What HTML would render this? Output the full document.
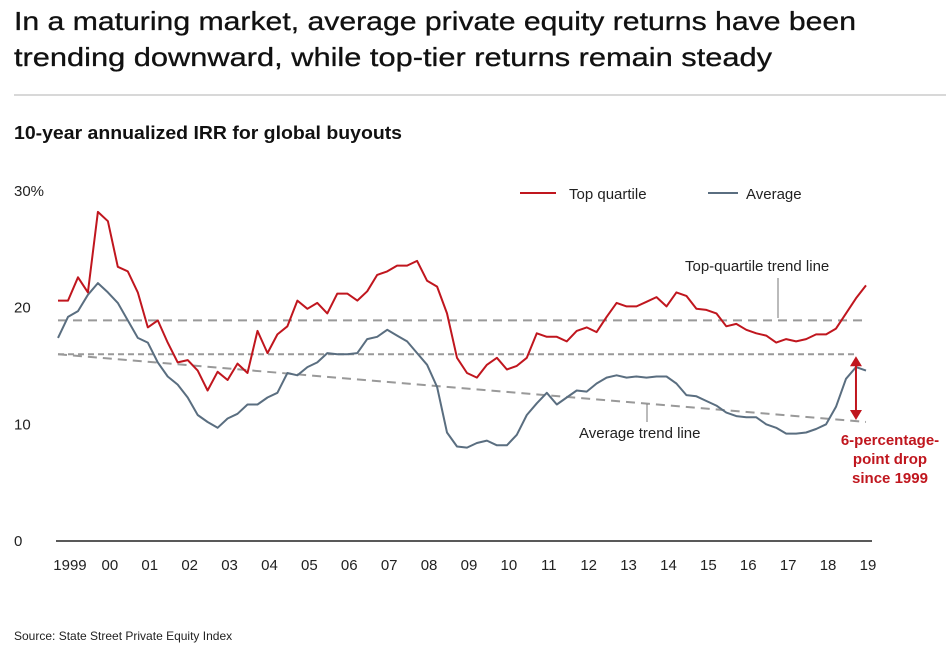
<!DOCTYPE html>
<html><head><meta charset="utf-8"><style>
html,body{margin:0;padding:0;background:#fff;}
svg{display:block;font-family:"Liberation Sans",Arial,sans-serif;}
</style></head><body>
<svg id="chart" width="951" height="658" viewBox="0 0 951 658">
<text x="14" y="30" font-size="26" fill="#111" stroke="#111" stroke-width="0.3" textLength="842" lengthAdjust="spacingAndGlyphs">In a maturing market, average private equity returns have been</text>
<text x="14" y="66" font-size="26" fill="#111" stroke="#111" stroke-width="0.3" textLength="758" lengthAdjust="spacingAndGlyphs">trending downward, while top-tier returns remain steady</text>
<line x1="14" y1="95" x2="946" y2="95" stroke="#ccc" stroke-width="1.5"/>
<text x="14" y="139" font-size="18" font-weight="bold" fill="#111" textLength="388" lengthAdjust="spacingAndGlyphs">10-year annualized IRR for global buyouts</text>
<g id="yaxis"></g>
<g id="xaxis"></g>
<g id="trends"></g>
<g id="series"></g>
<g>
<line x1="520" y1="193" x2="556" y2="193" stroke="#c0161e" stroke-width="2"/>
<text x="569" y="199" font-size="15" fill="#222">Top quartile</text>
<line x1="708" y1="193" x2="738" y2="193" stroke="#5a6e80" stroke-width="2"/>
<text x="746" y="199" font-size="15" fill="#222">Average</text>
</g>
<text x="685" y="271" font-size="15" fill="#222">Top-quartile trend line</text>
<line x1="778" y1="278" x2="778" y2="318" stroke="#777" stroke-width="1"/>
<text x="579" y="438" font-size="15" fill="#222">Average trend line</text>
<line x1="647" y1="404" x2="647" y2="422" stroke="#777" stroke-width="1"/>
<g id="arrow"></g>
<text font-size="15" font-weight="bold" fill="#c0161e" text-anchor="middle">
<tspan x="890" y="445">6-percentage-</tspan><tspan x="890" y="464">point drop</tspan><tspan x="890" y="483">since 1999</tspan></text>
<text x="14" y="640" font-size="12" fill="#222">Source: State Street Private Equity Index</text>
</svg>
<script>
const yTicks = [0, 10, 20, 30];
const yTickLabels = ["0", "10", "20", "30%"];
const xTickYears = [1999,2000,2001,2002,2003,2004,2005,2006,2007,2008,2009,2010,2011,2012,2013,2014,2015,2016,2017,2018,2019];
const xTickLabels = ["1999","00","01","02","03","04","05","06","07","08","09","10","11","12","13","14","15","16","17","18","19"];
const startYear = 1998.75;
const topQuartile = [20.6,20.6,22.6,21.3,28.2,27.4,23.5,23.1,21.3,18.3,18.9,17.0,15.3,15.5,14.6,12.9,14.5,13.8,15.2,14.4,18.0,16.1,17.7,18.4,20.6,19.9,20.4,19.5,21.2,21.2,20.6,21.4,22.8,23.1,23.6,23.6,24.0,22.3,21.8,19.5,15.7,14.4,14.0,15.1,15.7,14.7,15.0,15.7,17.8,17.5,17.5,17.1,18.0,18.3,17.9,19.2,20.4,20.1,20.1,20.5,20.9,20.1,21.3,21.0,19.9,19.8,19.5,18.4,18.6,18.1,17.8,17.6,17.0,17.3,17.1,17.3,17.7,17.7,18.2,19.5,20.8,21.9];
const average = [17.4,19.2,19.7,21.1,22.1,21.3,20.4,18.9,17.4,17.0,15.3,14.1,13.4,12.3,10.8,10.2,9.7,10.5,10.9,11.7,11.7,12.3,12.7,14.4,14.2,14.9,15.3,16.1,16.0,16.0,16.1,17.3,17.5,18.1,17.6,17.1,16.1,15.1,13.2,9.3,8.1,8.0,8.4,8.6,8.2,8.2,9.1,10.8,11.8,12.7,11.7,12.3,12.9,12.8,13.5,14.0,14.2,14.0,14.1,14.0,14.1,14.1,13.5,12.5,12.4,12.0,11.6,11.0,10.7,10.6,10.6,10.0,9.7,9.2,9.2,9.3,9.6,10.0,11.5,13.9,14.9,14.6];
const topTrend = [18.9, 18.9];
const avgStartRef = [16.0, 16.0];
const avgTrend = [16.0, 10.2];
const dropFromTo = [16.0, 10.2];

const NS = "http://www.w3.org/2000/svg";
const y = v => 541 - v * 11.67;
const xYear = t => 58 + (t - startYear) * 39.9;
const xi = i => xYear(startYear + i * 0.25);
const lastX = xi(topQuartile.length - 1);
function mk(tag, attrs, parent) {
  const e = document.createElementNS(NS, tag);
  for (const k in attrs) e.setAttribute(k, attrs[k]);
  parent.appendChild(e);
  return e;
}
const yAxis = document.getElementById('yaxis');
yTicks.forEach((v, i) => {
  const t = mk('text', {x: 14, y: y(v) + 5, 'font-size': 15, fill: '#222'}, yAxis);
  t.textContent = yTickLabels[i];
  
  
});
const baseline = mk('line', {x1: 56, x2: 872, y1: y(0), y2: y(0), stroke: '#222', 'stroke-width': 1.5}, yAxis);


const xAxis = document.getElementById('xaxis');
xTickYears.forEach((yr, i) => {
  const t = mk('text', {x: xYear(yr) + 2, y: 570, 'font-size': 15, fill: '#222', 'text-anchor': 'middle'}, xAxis);
  t.textContent = xTickLabels[i];
  
  
});
const trends = document.getElementById('trends');
const tl1 = mk('line', {x1: 58, x2: lastX, y1: y(topTrend[0]), y2: y(topTrend[1]), stroke: '#999', 'stroke-width': 2, 'stroke-dasharray': '9,6'}, trends);


const tl2 = mk('line', {x1: 58, x2: lastX - 8, y1: y(avgStartRef[0]), y2: y(avgStartRef[1]), stroke: '#999', 'stroke-width': 2, 'stroke-dasharray': '6,4'}, trends);


const tl3 = mk('line', {x1: 58, x2: lastX, y1: y(avgTrend[0]), y2: y(avgTrend[1]), stroke: '#999', 'stroke-width': 2, 'stroke-dasharray': '9,6'}, trends);


const series = document.getElementById('series');
const pts = arr => arr.map((v, i) => xi(i).toFixed(1) + ',' + y(v).toFixed(1)).join(' ');
const la = mk('polyline', {points: pts(average), fill: 'none', stroke: '#5a6e80', 'stroke-width': 2, 'stroke-linejoin': 'round'}, series);


const lt = mk('polyline', {points: pts(topQuartile), fill: 'none', stroke: '#c0161e', 'stroke-width': 2, 'stroke-linejoin': 'round'}, series);


const ar = document.getElementById('arrow');
const ax = lastX - 10, y1 = y(dropFromTo[0]) + 2, y2 = y(dropFromTo[1]) - 2;
const shaft = mk('line', {x1: ax, x2: ax, y1: y1 + 8, y2: y2 - 8, stroke: '#c0161e', 'stroke-width': 2}, ar);


const h1 = mk('polygon', {points: `${ax-6},${y1+10} ${ax+6},${y1+10} ${ax},${y1}`, fill: '#c0161e'}, ar);


const h2 = mk('polygon', {points: `${ax-6},${y2-10} ${ax+6},${y2-10} ${ax},${y2}`, fill: '#c0161e'}, ar);


</script>
</body></html>
